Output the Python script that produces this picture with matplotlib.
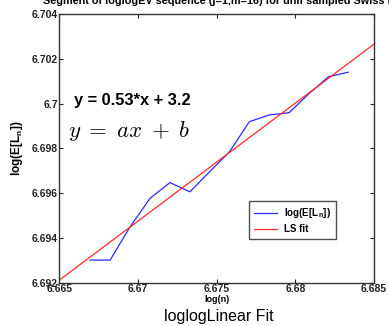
import numpy as np
import matplotlib
matplotlib.use("Agg")
import matplotlib.pyplot as plt

# data
log_n = [6.66696, 6.66823, 6.66950, 6.67077, 6.67203, 6.67330, 6.67456,
         6.67582, 6.67708, 6.67834, 6.67960, 6.68085, 6.68211, 6.68336]
log_EL = [6.69301, 6.69301, 6.69450, 6.69577, 6.69647, 6.69606, 6.69696,
          6.69785, 6.69919, 6.69949, 6.69959, 6.70043, 6.70120, 6.70140]
fit_slope = 0.527
fit_intercept = 3.17966
xticks = [6.665, 6.67, 6.675, 6.68, 6.685]
xticklabels = ["6.665", "6.67", "6.675", "6.68", "6.685"]
yticks = [6.692, 6.694, 6.696, 6.698, 6.7, 6.702, 6.704]
yticklabels = ["6.692", "6.694", "6.696", "6.698", "6.7", "6.702", "6.704"]

plt.rcParams['font.family'] = ['Liberation Sans', 'DejaVu Sans']
plt.rcParams['mathtext.fontset'] = 'cm'

W, H = 389, 326
fig = plt.figure(figsize=(W / 100, H / 100), dpi=100)
ax = fig.add_axes([59.3 / W, 1 - 282.7 / H, (374 - 59.3) / W, (282.7 - 14) / H])

xlim = (6.665, 6.685)
ax.plot(log_n, log_EL, color='#2a2aff', lw=0.9, label='log(E[L$_\\mathregular{n}$])')
fx = np.array(xlim)
ax.plot(fx, fit_slope * fx + fit_intercept, color='#ff2a2a', lw=0.9, label='LS fit')

ax.set_xlim(*xlim)
ax.set_ylim(6.692, 6.704)
ax.set_xticks(xticks)
ax.set_xticklabels(xticklabels)
ax.set_yticks(yticks)
ax.set_yticklabels(yticklabels)
ax.tick_params(direction='in', length=3, width=0.8, top=True, right=True,
               labelsize=7.5, pad=1.0, colors='#222222')
for lab in ax.get_xticklabels() + ax.get_yticklabels():
    lab.set_fontweight('bold')
for s in ax.spines.values():
    s.set_linewidth(1.0)
    s.set_color('#333333')

ax.set_xlabel('log(n)', fontsize=6.5, fontweight='bold', labelpad=1)
ax.set_ylabel('log(E[L$_\\mathregular{n}$])', fontsize=8.5, fontweight='bold', labelpad=5)

ax.text(74 / W, 1 - 100 / H, 'y = 0.53*x + 3.2', transform=fig.transFigure,
        fontsize=11.8, fontweight='bold', va='center', ha='left')
ax.text(68 / W, 1 - 131 / H, r'$y\;=\;ax\;+\;b$', transform=fig.transFigure,
        fontsize=16.5, va='center', ha='left')

leg = ax.legend(loc='lower left', bbox_to_anchor=((249.3 - 59.3) / (374 - 59.3), (282.7 - 239.3) / (282.7 - 14)),
                prop={'weight': 'bold', 'size': 7}, frameon=True, fancybox=False,
                handlelength=2.4, handletextpad=0.7, borderpad=0.5, labelspacing=0.45,
                borderaxespad=0)
leg.get_frame().set_edgecolor('#222222')
leg.get_frame().set_linewidth(1.0)

fig.text(43 / W, 1 - 1 / H, 'Segment of loglogEV sequence (j=1,m=16) for unif sampled Swiss Roll',
         fontsize=7.8, fontweight='bold', ha='left', va='center')
fig.text(219 / W, 1 - 316 / H, 'loglogLinear Fit', fontsize=11.5, ha='center', va='center')

fig.savefig('out.png', dpi=100)
